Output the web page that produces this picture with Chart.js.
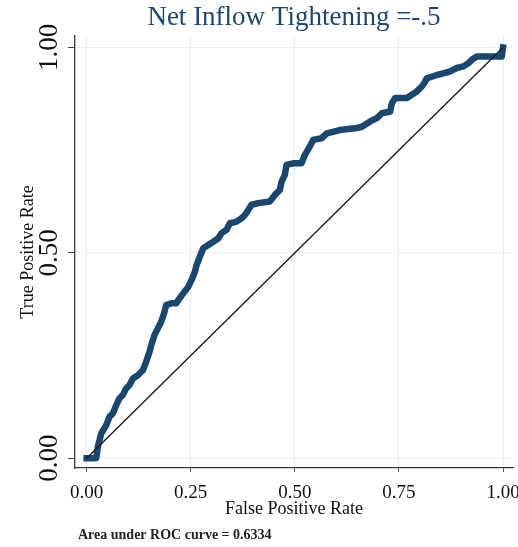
<!DOCTYPE html>
<html>
<head>
<meta charset="utf-8">
<script src="https://cdn.jsdelivr.net/npm/chart.js@4"></script>
<style>
  body { margin: 0; background: #fff; }
  #wrap { width: 518px; height: 547px; position: relative; }
</style>
</head>
<body>
<div id="wrap"><canvas id="roc"></canvas></div>
<script>
// ROC curve points
const fpr = [0, 0.023, 0.027, 0.035, 0.047, 0.055, 0.063, 0.071, 0.079, 0.087,
  0.095, 0.103, 0.111, 0.123, 0.135, 0.143, 0.151, 0.155, 0.163, 0.171,
  0.179, 0.186, 0.191, 0.203, 0.215, 0.223, 0.235, 0.244, 0.252, 0.260,
  0.264, 0.272, 0.280, 0.292, 0.304, 0.316, 0.324, 0.336, 0.344, 0.360,
  0.372, 0.380, 0.388, 0.396, 0.412, 0.440, 0.452, 0.464, 0.468, 0.476,
  0.480, 0.496, 0.516, 0.524, 0.536, 0.544, 0.564, 0.577, 0.608, 0.649,
  0.661, 0.681, 0.697, 0.709, 0.729, 0.733, 0.741, 0.769, 0.781, 0.793,
  0.805, 0.813, 0.817, 0.841, 0.861, 0.873, 0.889, 0.905, 0.917, 0.925,
  0.937, 0.997, 1];
const tpr = [0, 0, 0.028, 0.060, 0.080, 0.101, 0.109, 0.129, 0.146, 0.154,
  0.170, 0.178, 0.194, 0.202, 0.214, 0.235, 0.259, 0.275, 0.300, 0.316,
  0.332, 0.353, 0.373, 0.377, 0.377, 0.389, 0.405, 0.417, 0.434, 0.454,
  0.470, 0.491, 0.511, 0.519, 0.527, 0.535, 0.548, 0.556, 0.572, 0.576,
  0.584, 0.592, 0.604, 0.617, 0.621, 0.625, 0.641, 0.653, 0.673, 0.690,
  0.714, 0.718, 0.718, 0.738, 0.759, 0.775, 0.779, 0.791, 0.799, 0.804,
  0.807, 0.820, 0.828, 0.840, 0.844, 0.864, 0.877, 0.877, 0.885, 0.893,
  0.905, 0.917, 0.925, 0.933, 0.938, 0.942, 0.950, 0.954, 0.962, 0.970,
  0.978, 0.978, 1];
const diagX = [0, 1];
const diagY = [0, 1];
const xTicks = [0, 0.25, 0.5, 0.75, 1];
const yTicks = [0, 0.5, 1];
const chartTitle = "Net Inflow Tightening =-.5";
const aucText = "Area under ROC curve = 0.6334";

const serif = '"Liberation Serif", "DejaVu Serif", serif';

// footnote under the x axis
const notePlugin = {
  id: "note",
  afterDraw(chart) {
    const c = chart.ctx;
    c.save();
    c.font = "bold 14px " + serif;
    c.fillStyle = "#222";
    c.textBaseline = "middle";
    c.fillText(aucText, 78, 535);
    c.restore();
  },
};

function noPad(s) {
  s.paddingLeft = 0;
  s.paddingRight = 0;
  s.paddingTop = 0;
  s.paddingBottom = 0;
}

new Chart(document.getElementById("roc"), {
  type: "scatter",
  data: {
    datasets: [
      {
        data: diagX.map((x, i) => ({ x: x, y: diagY[i] })),
        showLine: true,
        borderColor: "#1b1b1b",
        borderWidth: 1.4,
        pointRadius: 0,
      },
      {
        data: fpr.map((x, i) => ({ x: x, y: tpr[i] })),
        showLine: true,
        borderColor: "#1a476f",
        borderWidth: 6.5,
        borderJoinStyle: "round",
        borderCapStyle: "square",
        pointRadius: 0,
      },
    ],
  },
  plugins: [notePlugin],
  options: {
    responsive: true,
    maintainAspectRatio: false,
    animation: false,
    layout: { padding: { left: 0, right: 5, top: 0, bottom: 0 } },
    plugins: {
      legend: { display: false },
      tooltip: { enabled: false },
    },
    scales: {
      // top axis only carries the title, so it centres over the plot region
      top: {
        type: "linear",
        position: "top",
        min: -0.028,
        max: 1.024,
        afterFit: (s) => { noPad(s); s.height = 36; },
        grid: { display: false, drawTicks: false },
        border: { display: false },
        ticks: { display: false },
        title: {
          display: true,
          text: chartTitle,
          color: "#1a476f",
          font: { family: serif, size: 27 },
          padding: { top: 2, bottom: 0 },
        },
      },
      x: {
        type: "linear",
        min: -0.028,
        max: 1.024,
        afterBuildTicks: (s) => { s.ticks = xTicks.map((v) => ({ value: v })); },
        afterFit: (s) => { noPad(s); s.height = 79; },
        grid: { color: "#e6eef1", lineWidth: 1, tickLength: 4, tickColor: "#555" },
        border: { color: "#3a3a3a", width: 1.3 },
        ticks: {
          autoSkip: false,
          padding: 10,
          color: "#111",
          font: { family: serif, size: 19 },
          callback: (v) => v.toFixed(2),
        },
        title: {
          display: true,
          text: "False Positive Rate",
          color: "#111",
          font: { family: serif, size: 18 },
          padding: { top: 0, bottom: 27 },
        },
      },
      y: {
        type: "linear",
        min: -0.024,
        max: 1.028,
        afterBuildTicks: (s) => { s.ticks = yTicks.map((v) => ({ value: v })); },
        afterFit: (s) => { noPad(s); s.width = 75; },
        grid: { color: "#eeeeee", lineWidth: 1, tickLength: 7, tickColor: "#444" },
        border: { color: "#3a3a3a", width: 1.3 },
        ticks: {
          autoSkip: false,
          minRotation: 90,
          maxRotation: 90,
          crossAlign: "center",
          padding: -6,
          color: "#111",
          font: { family: serif, size: 27 },
          callback: (v) => v.toFixed(2),
        },
        title: {
          display: true,
          text: "True Positive Rate",
          color: "#111",
          font: { family: serif, size: 18 },
          padding: { top: 17, bottom: 0 },
        },
      },
    },
  },
});
</script>
</body>
</html>
